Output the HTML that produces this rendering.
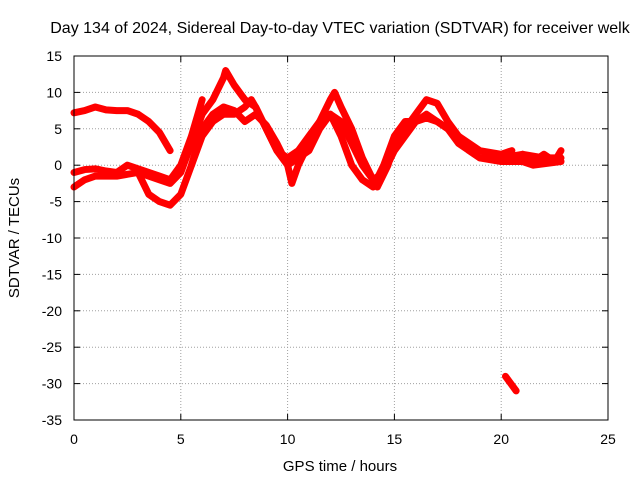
<!DOCTYPE html>
<html><head><meta charset="utf-8"><style>
body{margin:0;background:#fff}
svg{display:block;font-family:"Liberation Sans",sans-serif}
</style></head><body>
<svg id="chart" width="640" height="480">
<text x="340" y="33" font-size="16" text-anchor="middle">Day 134 of 2024, Sidereal Day-to-day VTEC variation (SDTVAR) for receiver welk</text>
<text x="340" y="471" font-size="15" text-anchor="middle">GPS time / hours</text>
<text transform="translate(19,238) rotate(-90)" font-size="15" text-anchor="middle">SDTVAR / TECUs</text>
<g id="grid"></g><g id="series"></g><g id="axes"></g>
</svg>
<script>
const xTicks=[0,5,10,15,20,25];
const yTicks=[15,10,5,0,-5,-10,-15,-20,-25,-30,-35];
const arcA_t=[0,0.5,1,1.5,2,2.5,3,3.5,4,4.5];
const arcA_v=[7.2,7.5,8,7.6,7.5,7.5,7,6,4.5,2];
const arcB_t=[0,0.5,1,1.5,2,2.5,3,3.5,4,4.5,5,5.5,6];
const arcB_v=[-1,-0.6,-0.5,-0.8,-1,0,-0.5,-1,-1.5,-2,0,4,9];
const arcC_t=[0,0.5,1,2,3,4,4.5,5,5.5,6,6.5,7,7.1,7.5,8,8.5,9,9.5,10,10.2,10.5,11,11.5,12,12.2,12.5,13,13.5,14,14.2,14.7,15,15.5,16,16.5,17,17.5,18,18.5,19,20,21,22,22.8];
const arcC_v=[-3,-2,-1.5,-1.5,-1,-2,-2.5,-1,3,7,9,12,13,11,9,8,5,2,0,-2.5,0,3,6,9,10,8,5,1,-2,-3,0,3,5,7,9,8.5,6,4,2,1,1,1.5,1,1];
const arcD_t=[3,3.5,4,4.5,5,5.5,6,6.5,7,7.5,8,8.3,8.5,9,9.5,10,10.5,11,11.5,12,12.5,13,13.5,14,14.5,15,15.5,16,16.5,17,18,19,20,20.5];
const arcD_v=[-1,-4,-5,-5.5,-4,0,4,6,7,7,8,9,8,5,2,1,2,4,6,7,6,3,0,-2,-1,2,4,6,6.5,6,4,2,1.5,2];
const arcE_t=[5.5,6,6.5,7,7.5,8,8.5,9,9.5,10,10.5,11,11.5,12,12.5,13,13.5,14,14.5,15,15.5,16,16.5,17,17.5,18,19,20,21,21.5,22.8];
const arcE_v=[0,5,7,8,7.5,6,7,5.5,3,0,1,2,5,7,4,0,-2,-3,0,4,6,6,7,6,5,3,1,0.5,0.5,0,0.5];
const arcF_t=[21,21.5,22,22.5,22.8];
const arcF_v=[1.5,0.5,1.5,0.5,2];
const arcG_t=[20.2,20.7];
const arcG_v=[-29,-31];
const X0=74,X1=608,Y0=56,Y1=420;
const sx=t=>X0+(t-0)/(25-0)*(X1-X0);
const sy=v=>Y0+(15-v)/(15+35)*(Y1-Y0);
const NS='http://www.w3.org/2000/svg';
function mk(tag,attrs,parent){const e=document.createElementNS(NS,tag);for(const k in attrs)e.setAttribute(k,attrs[k]);parent.appendChild(e);return e;}
const grid=document.getElementById('grid'),axes=document.getElementById('axes'),series=document.getElementById('series');
xTicks.forEach(t=>{
 const x=sx(t);
 if(t>0&&t<25){const l=mk('line',{x1:x,y1:Y0,x2:x,y2:Y1,stroke:'#a0a0a0','stroke-dasharray':'1,2'},grid);
 
 }
 mk('line',{x1:x,y1:Y1,x2:x,y2:Y1-6,stroke:'#000'},axes);
 mk('line',{x1:x,y1:Y0,x2:x,y2:Y0+6,stroke:'#000'},axes);
 const tx=mk('text',{x:x,y:Y1+24,'font-size':14,'text-anchor':'middle'},axes);tx.textContent=t;
 
 
});
yTicks.forEach(v=>{
 const y=sy(v);
 if(v<15&&v>-35){const l=mk('line',{x1:X0,y1:y,x2:X1,y2:y,stroke:'#a0a0a0','stroke-dasharray':'1,2'},grid);
 
 }
 mk('line',{x1:X0,y1:y,x2:X0+6,y2:y,stroke:'#000'},axes);
 mk('line',{x1:X1,y1:y,x2:X1-6,y2:y,stroke:'#000'},axes);
 const tx=mk('text',{x:X0-12,y:y+5,'font-size':14,'text-anchor':'end'},axes);tx.textContent=v;
 
 
});
const frame=mk('rect',{x:X0,y:Y0,width:X1-X0,height:Y1-Y0,fill:'none',stroke:'#000'},axes);


const arcs=[[arcA_t,arcA_v],[arcB_t,arcB_v],[arcC_t,arcC_v],[arcD_t,arcD_v],[arcE_t,arcE_v],[arcF_t,arcF_v],[arcG_t,arcG_v]];
arcs.forEach(([ts,vs],i)=>{
 const pts=ts.map((t,j)=>sx(t)+','+sy(vs[j])).join(' ');
 const p=mk('polyline',{points:pts,fill:'none',stroke:'#ff0000','stroke-width':7,'stroke-linejoin':'round','stroke-linecap':'round'},series);
 
 
});
</script>
</body></html>
